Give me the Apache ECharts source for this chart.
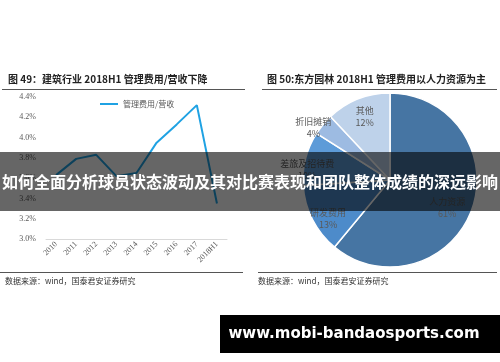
<!DOCTYPE html>
<html><head><meta charset="utf-8">
<script src="https://cdn.jsdelivr.net/npm/echarts@6/dist/echarts.min.js"></script>
<style>html,body{margin:0;padding:0;background:#fff}#c{width:500px;height:362px}</style>
</head><body><div id="c"></div>
<script>
// ---- data ----
const years = ['2010','2011','2012','2013','2014','2015','2016','2017','2018H1'];
const ratio = [3.63, 3.79, 3.83, 3.62, 3.65, 3.95, 4.13, 4.32, 3.35];
const yMin = 3.0, yMax = 4.4, yStep = 0.2;
const lineName = '管理费用/营收';
const pieNames = ['人力资源','研发费用','差旅及招待费','折旧摊销','其他'];
const pieValues = [61, 13, 10, 4, 12];
const leftTitle = '图 49：建筑行业 2018H1 管理费用/营收下降';
const rightTitle = '图 50:东方园林 2018H1 管理费用以人力资源为主';
const sourceText = '数据来源：wind，国泰君安证券研究';
const bannerText = '如何全面分析球员状态波动及其对比赛表现和团队整体成绩的深远影响';
const siteText = 'www.mobi-bandaosports.com';

// ---- style / layout ----
const pieColors = ['#4675a3','#4d8bca','#5d9bd8','#9dbbe2','#bed2ea'];
const pieCenter = [390, 180];
const pieRadius = 87;
const labelR = [0.73, 0.84, 0.96, 1.07, 0.79];   // label distance as share of radius
const labelDA = [6, -5, -7, -5, 0];              // label angle tweak, degrees
const cjk = '"Noto Sans CJK SC", sans-serif';
const serif = '"Liberation Serif", "DejaVu Serif", serif';

const total = pieValues.reduce((a, b) => a + b, 0);
function labelPos(i) {
  let before = 0;
  for (let j = 0; j < i; j++) before += pieValues[j];
  const mid = (before + pieValues[i] / 2) / total * 360 + labelDA[i];
  const a = mid * Math.PI / 180;
  const r = labelR[i] * pieRadius;
  return [pieCenter[0] + r * Math.sin(a), pieCenter[1] - r * Math.cos(a)];
}

const chart = echarts.init(document.getElementById('c'), null, {renderer:'canvas'});
chart.setOption({
  animation: false,
  backgroundColor: '#fff',
  grid: {left: 46, right: 273, top: 97, bottom: 123, containLabel: false},
  legend: {
    left: 95, top: 95, icon: 'rect', itemWidth: 18, itemHeight: 2, itemGap: 4,
    textStyle: {fontSize: 8, color: '#595959', fontFamily: cjk},
    data: [lineName]
  },
  xAxis: {
    type: 'category', data: years, boundaryGap: true,
    axisLine: {lineStyle: {color: '#d9d9d9'}},
    axisTick: {show: false},
    axisLabel: {rotate: 45, fontSize: 8, color: '#595959', fontFamily: serif, margin: 4, interval: 0}
  },
  yAxis: {
    type: 'value', min: yMin, max: yMax, interval: yStep,
    splitLine: {show: false}, axisLine: {show: false}, axisTick: {show: false},
    axisLabel: {fontSize: 8, color: '#595959', fontFamily: serif, margin: 10,
      formatter: v => v.toFixed(1) + '%'}
  },
  series: [
    {
      name: lineName, type: 'line', data: ratio, symbol: 'none', smooth: false,
      lineStyle: {color: '#1fa2e3', width: 2}, itemStyle: {color: '#1fa2e3'}
    },
    {
      type: 'pie', center: pieCenter, radius: [0, pieRadius], startAngle: 90, clockwise: true,
      data: pieNames.map((n, i) => ({name: n, value: pieValues[i], itemStyle: {color: pieColors[i]}})),
      itemStyle: {borderColor: '#fff', borderWidth: 1.5},
      label: {show: true, position: 'inside', formatter: '{b}\n{c}%', fontSize: 9, lineHeight: 12,
        color: '#595959', fontFamily: cjk},
      labelLine: {show: false},
      labelLayout: function (p) {
        const pos = labelPos(p.dataIndex);
        return {x: pos[0], y: pos[1], align: 'center', verticalAlign: 'middle'};
      },
      emphasis: {disabled: true}
    }
  ],
  graphic: [
    {type: 'text', left: 8, top: 74, style: {text: leftTitle, fontSize: 10, fontWeight: 'bold', fill: '#222', fontFamily: cjk}},
    {type: 'text', left: 267, top: 74, style: {text: rightTitle, fontSize: 10, fontWeight: 'bold', fill: '#222', fontFamily: cjk}},
    {type: 'line', shape: {x1: 2, y1: 89.5, x2: 245, y2: 89.5}, style: {stroke: '#555', lineWidth: 1}},
    {type: 'line', shape: {x1: 262, y1: 89.5, x2: 497, y2: 89.5}, style: {stroke: '#555', lineWidth: 1}},
    {type: 'line', shape: {x1: 0, y1: 272.5, x2: 243, y2: 272.5}, style: {stroke: '#555', lineWidth: 1}},
    {type: 'line', shape: {x1: 258, y1: 272.5, x2: 497, y2: 272.5}, style: {stroke: '#555', lineWidth: 1}},
    {type: 'text', left: 5, top: 277, style: {text: sourceText, fontSize: 8, fill: '#333', fontFamily: cjk}},
    {type: 'text', left: 258, top: 277, style: {text: sourceText, fontSize: 8, fill: '#333', fontFamily: cjk}},
    {type: 'rect', z: 100, shape: {x: 0, y: 152, width: 500, height: 59}, style: {fill: 'rgba(0,0,0,0.6)'}},
    {type: 'text', z: 101, x: 250, y: 182, style: {text: bannerText, fontSize: 16, fontWeight: 'bold', fill: '#fff',
      fontFamily: cjk, align: 'center', verticalAlign: 'middle'}},
    {type: 'rect', z: 100, shape: {x: 220, y: 315, width: 280, height: 38}, style: {fill: '#000'}},
    {type: 'text', z: 101, x: 354, y: 334, style: {text: siteText, fontSize: 15, fontWeight: 'bold', fill: '#fff',
      fontFamily: '"DejaVu Sans", sans-serif', align: 'center', verticalAlign: 'middle'}}
  ]
});
</script>
</body></html>
